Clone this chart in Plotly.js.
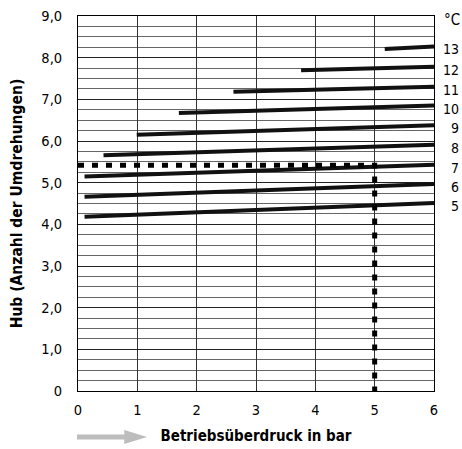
<!DOCTYPE html>
<html>
<head>
<meta charset="utf-8">
<script src="https://cdn.plot.ly/plotly-3.0.1.min.js"></script>
<style>html,body{margin:0;padding:0;background:#fff;}#chart{width:462px;height:449px;}</style>
</head>
<body>
<div id="chart"></div>
<script>
// Temperature lines (°C)
var temps  = ['13','12','11','10','9','8','7','6','5'];
var xStart = [5.17, 3.76, 2.62, 1.70, 0.99, 0.43, 0.11, 0.11, 0.11];
var yStart = [8.21, 7.70, 7.18, 6.67, 6.15, 5.66, 5.15, 4.66, 4.18];
var xEnd   = [6, 6, 6, 6, 6, 6, 6, 6, 6];
var yEnd   = [8.27, 7.78, 7.30, 6.85, 6.38, 5.91, 5.43, 4.97, 4.51];
// Reading example (dashed)
var readX = [0, 5, 5];
var readY = [5.42, 5.42, 0];
// Tick labels
var yTickVals = [0,1,2,3,4,5,6,7,8,9];
var yTickText = ['0','1,0','2,0','3,0','4,0','5,0','6,0','7,0','8,0','9,0'];
var xTickVals = [0,1,2,3,4,5,6];
var xTickText = ['0','1','2','3','4','5','6'];

var font = 'DejaVu Sans Condensed, DejaVu Sans, sans-serif';
var traces = [];
for (var i = 0; i < temps.length; i++) {
  traces.push({
    x: [xStart[i], xEnd[i]], y: [yStart[i], yEnd[i]],
    mode: 'lines', type: 'scatter', name: temps[i] + ' °C',
    line: {color: '#111', width: 4}, hoverinfo: 'skip', showlegend: false
  });
}
traces.push({
  x: readX, y: readY, mode: 'lines', type: 'scatter',
  line: {color: '#000', width: 5, dash: '6px,8px'}, showlegend: false, hoverinfo: 'skip'
});

var annotations = [];
for (var j = 0; j < temps.length; j++) {
  annotations.push({
    xref: 'paper', yref: 'y', x: 1, y: yEnd[j], xanchor: 'right', yanchor: 'middle',
    xshift: 27, yshift: -3, text: temps[j], showarrow: false,
    font: {family: font, size: 14, color: '#000'}
  });
}
annotations.push({
  xref: 'paper', yref: 'paper', x: 1, y: 1, xanchor: 'right', yanchor: 'middle',
  xshift: 28, yshift: -4, text: '°C', showarrow: false,
  font: {family: font, size: 15, color: '#000'}
});

var layout = {
  width: 462, height: 449,
  margin: {l: 78, r: 28, t: 16, b: 58},
  paper_bgcolor: '#fff', plot_bgcolor: '#fff',
  showlegend: false,
  font: {family: font, size: 14, color: '#000'},
  xaxis: {
    range: [0, 6], tickvals: xTickVals, ticktext: xTickText,
    showgrid: true, gridcolor: '#333', gridwidth: 1,
    zeroline: false, showline: true, linecolor: '#000', linewidth: 1, mirror: true,
    ticks: 'outside', ticklen: 6, tickcolor: 'rgba(0,0,0,0)',
    tickfont: {family: font, size: 14.5, color: '#000'},
    title: {text: 'Betriebsüberdruck in bar', standoff: 13,
            font: {family: font, size: 15, color: '#000', weight: 'bold'}}
  },
  yaxis: {
    range: [0, 9], tickvals: yTickVals, ticktext: yTickText,
    showgrid: true, gridcolor: '#222', gridwidth: 1,
    minor: {dtick: 0.25, showgrid: true, gridcolor: '#666', gridwidth: 1},
    zeroline: false, showline: true, linecolor: '#000', linewidth: 1, mirror: true,
    ticks: 'outside', ticklen: 12, tickcolor: 'rgba(0,0,0,0)',
    tickfont: {family: font, size: 14.5, color: '#000'},
    title: {text: 'Hub (Anzahl der Umdrehungen)', standoff: 14,
            font: {family: font, size: 15.5, color: '#000', weight: 'bold'}}
  },
  annotations: annotations,
  shapes: [
    {type: 'line', xref: 'paper', yref: 'paper', x0: -0.003, x1: 0.135, y0: -0.1227, y1: -0.1227,
     line: {color: '#bdbdbd', width: 5}},
    {type: 'path', xref: 'paper', yref: 'paper',
     path: 'M 0.13 -0.104 L 0.194 -0.1227 L 0.13 -0.141 Z',
     fillcolor: '#bdbdbd', line: {color: '#bdbdbd', width: 0}}
  ]
};

Plotly.newPlot('chart', traces, layout, {staticPlot: true, displayModeBar: false});
</script>
</body>
</html>
